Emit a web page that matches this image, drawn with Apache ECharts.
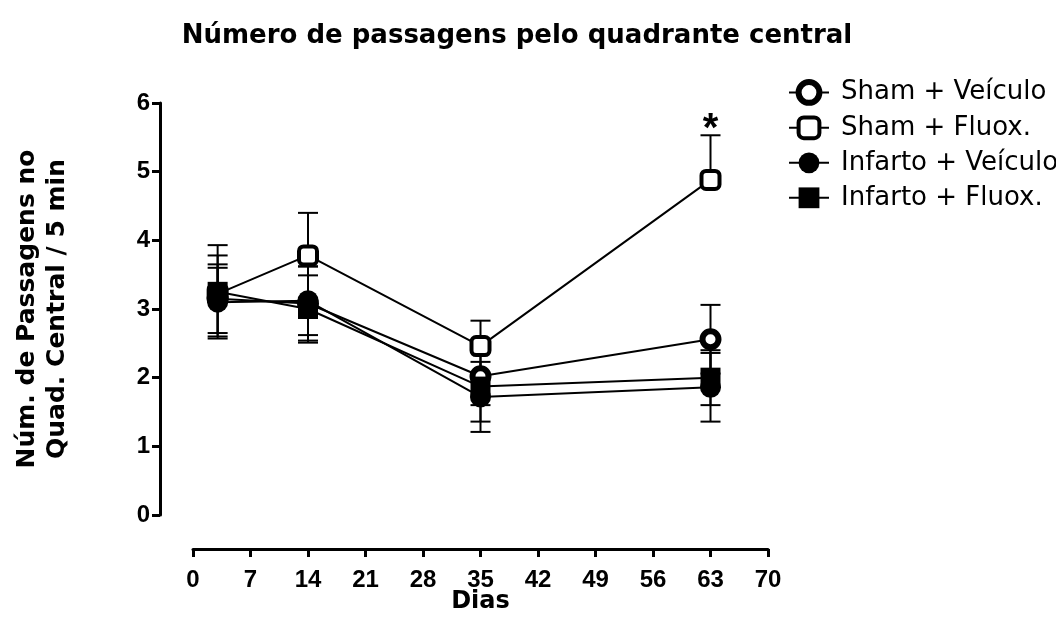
<!DOCTYPE html>
<html>
<head>
<meta charset="utf-8">
<script src="https://cdn.jsdelivr.net/npm/echarts@6/dist/echarts.min.js"></script>
<style>html,body{margin:0;padding:0;background:#fff}#c{width:1056px;height:634px}</style>
</head>
<body>
<div id="c"></div>
<script>
const days = [3, 14, 35, 63];
const xTicks = [0, 7, 14, 21, 28, 35, 42, 49, 56, 63, 70];
const yTicks = [0, 1, 2, 3, 4, 5, 6];
const seriesNames = ['Sham + Veículo', 'Sham + Fluox.', 'Infarto + Veículo', 'Infarto + Fluox.'];
const shamVeiculo = [3.15, 3.08, 2.02, 2.56];
const shamVeiculoErr = [0.5, 0.54, 0.42, 0.5];
const shamFluox = [3.22, 3.78, 2.46, 4.88];
const shamFluoxErr = [0.56, 0.62, 0.37, 0.65];   // drawn above only
const infartoVeiculo = [3.1, 3.12, 1.72, 1.86];
const infartoVeiculoErr = [0.5, 0.5, 0.51, 0.5];
const infartoFluox = [3.25, 3.0, 1.87, 2.0];
const infartoFluoxErr = [0.68, 0.49, 0.51, 0.4];
const significance = { day: 63, label: '*' };

const FONT = 'Liberation Sans, Arial, sans-serif';
const WFONT = 'DejaVu Sans, sans-serif';

function pairs(vals) { return days.map((d, i) => [d, vals[i]]); }
function errData(vals, errs, upOnly) {
  return days.map((d, i) => [d, upOnly ? vals[i] : vals[i] - errs[i], vals[i] + errs[i]]);
}
function errSeries(vals, errs, upOnly) {
  return {
    type: 'custom',
    z: 1,
    silent: true,
    data: errData(vals, errs, upOnly),
    renderItem: function (params, api) {
      const x = api.value(0);
      const lo = api.coord([x, api.value(1)]);
      const hi = api.coord([x, api.value(2)]);
      const w = 10;
      const style = { stroke: '#000', lineWidth: 2 };
      const children = [
        { type: 'line', shape: { x1: lo[0], y1: lo[1], x2: hi[0], y2: hi[1] }, style: style },
        { type: 'line', shape: { x1: hi[0] - w, y1: hi[1], x2: hi[0] + w, y2: hi[1] }, style: style }
      ];
      if (!upOnly) {
        children.push({ type: 'line', shape: { x1: lo[0] - w, y1: lo[1], x2: lo[0] + w, y2: lo[1] }, style: style });
      }
      return { type: 'group', children: children };
    }
  };
}
function lineSeries(name, vals, symbol, size, border) {
  const open = border > 0;
  return {
    name: name,
    type: 'line',
    z: 3,
    data: pairs(vals),
    symbol: symbol,
    symbolSize: size,
    showAllSymbol: true,
    lineStyle: { color: '#000', width: 2 },
    itemStyle: open ? { color: '#fff', borderColor: '#000', borderWidth: border } : { color: '#000', borderColor: '#000', borderWidth: 0 },
    emphasis: { disabled: true }
  };
}

const sFluox = lineSeries(seriesNames[1], shamFluox, 'roundRect', 18, 4);
const sigIdx = days.indexOf(significance.day);
sFluox.markPoint = {
  symbol: 'circle',
  symbolSize: 0,
  data: [{ coord: [significance.day, shamFluox[sigIdx] + shamFluoxErr[sigIdx]] }],
  label: { show: true, formatter: significance.label, position: 'top', distance: -15, color: '#000', fontSize: 40, fontWeight: 'bold', fontFamily: FONT },
  silent: true
};

const legendBorders = [6, 4, 0, 0];

const option = {
  animation: false,
  backgroundColor: '#fff',
  title: {
    text: 'Número de passagens pelo quadrante central',
    left: 512, top: 18, textAlign: 'center',
    textStyle: { fontFamily: WFONT, fontSize: 26, fontWeight: 'bold', color: '#000' }
  },
  legend: {
    orient: 'vertical',
    left: 783, top: 74,
    itemWidth: 40, itemHeight: 26, itemGap: 9,
    data: seriesNames.map((n, i) => ({ name: n, itemStyle: { borderWidth: legendBorders[i] } })),
    textStyle: { fontFamily: WFONT, fontSize: 26, color: '#000', padding: [0, 0, 0, 7] },
    selectedMode: false
  },
  grid: { left: 193, right: 288, top: 103, bottom: 119 },
  xAxis: {
    type: 'value', min: 0, max: 70, interval: 7, offset: 34,
    name: 'Dias', nameLocation: 'middle', nameGap: 41, nameMoveOverlap: false,
    nameTextStyle: { fontFamily: WFONT, fontSize: 24, fontWeight: 'bold', color: '#000' },
    axisLine: { show: true, onZero: false, lineStyle: { color: '#000', width: 3 } },
    axisTick: { show: true, length: 8, lineStyle: { color: '#000', width: 3 } },
    axisLabel: { fontFamily: FONT, fontSize: 24, fontWeight: 'bold', color: '#000', margin: 19,
      formatter: v => xTicks.includes(v) ? String(v) : '' },
    splitLine: { show: false }
  },
  yAxis: {
    type: 'value', min: 0, max: 6, interval: 1, offset: 33,
    name: 'Núm. de Passagens no\nQuad. Central / 5 min', nameLocation: 'middle', nameGap: 88, nameMoveOverlap: false,
    nameTextStyle: { fontFamily: WFONT, fontSize: 25, fontWeight: 'bold', color: '#000', lineHeight: 30 },
    axisLine: { show: true, onZero: false, lineStyle: { color: '#000', width: 3 } },
    axisTick: { show: true, length: 8, lineStyle: { color: '#000', width: 3 } },
    axisLabel: { fontFamily: FONT, fontSize: 24, fontWeight: 'bold', color: '#000', margin: 10,
      formatter: v => yTicks.includes(v) ? String(v) : '' },
    splitLine: { show: false }
  },
  series: [
    errSeries(shamVeiculo, shamVeiculoErr, false),
    errSeries(shamFluox, shamFluoxErr, true),
    errSeries(infartoVeiculo, infartoVeiculoErr, false),
    errSeries(infartoFluox, infartoFluoxErr, false),
    lineSeries(seriesNames[0], shamVeiculo, 'circle', 16, 6),
    sFluox,
    lineSeries(seriesNames[2], infartoVeiculo, 'circle', 21, 0),
    lineSeries(seriesNames[3], infartoFluox, 'rect', 20, 0)
  ]
};
echarts.init(document.getElementById('c'), null, { renderer: 'canvas' }).setOption(option);
</script>
</body>
</html>
